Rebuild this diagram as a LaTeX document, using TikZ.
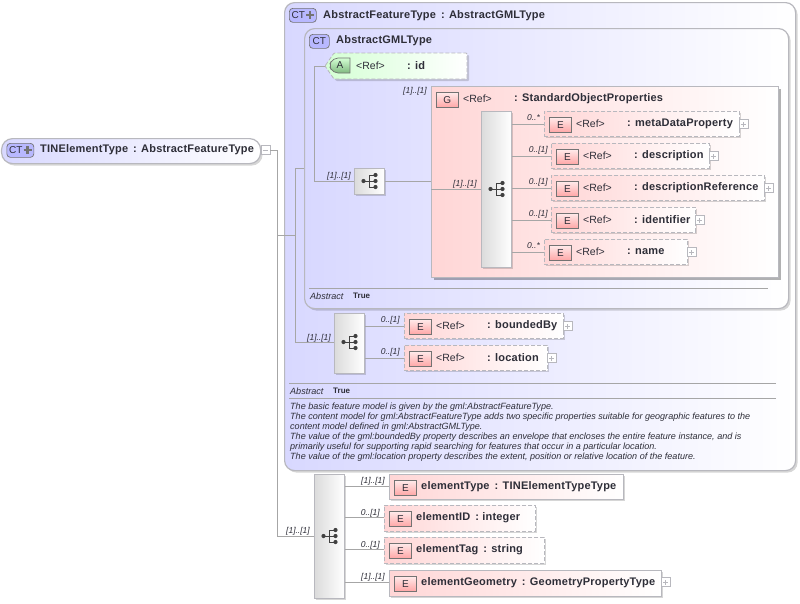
\documentclass[tikz,border=0pt]{standalone}
\usepackage{fontspec}
\setmainfont{Liberation Sans}
\newfontfamily\namefont[LetterSpace=1.8]{Liberation Sans}
\usetikzlibrary{shadows}
\definecolor{wire}{HTML}{A6A6A6}
\definecolor{rim}{HTML}{B8B8BE}
\definecolor{ink}{HTML}{2E2E38}
\definecolor{lilac}{HTML}{D8D8FF}
\definecolor{rose}{HTML}{FFD6D6}
\definecolor{mint}{HTML}{D4FFD4}
\tikzset{
  softshadow/.style={drop shadow={shadow xshift=2pt,shadow yshift=-2pt,fill=black,opacity=.16}},
  deepshadow/.style={drop shadow={shadow xshift=3pt,shadow yshift=-3pt,fill=black,opacity=.3}},
  typebox/.style={draw=rim,line width=1.2pt,rounded corners=10pt,left color=lilac,right color=white,anchor=north west,inner sep=0pt,softshadow},
  rootbox/.style={typebox,rounded corners=11pt},
  elemsolid/.style={draw=rim,line width=.8pt,left color=rose,right color=white,anchor=north west,inner sep=0pt,softshadow},
  elemdash/.style={elemsolid,dash pattern=on 4pt off 2pt},
  groupbox/.style={draw=rim,line width=.8pt,left color=rose,right color=white,anchor=north west,inner sep=0pt,deepshadow},
  seqbox/.style={draw=rim,line width=.8pt,left color=black!14,right color=white,anchor=north west,inner sep=0pt,softshadow},
  badge/.style={draw=black!55,line width=.7pt,inner sep=0pt,anchor=north west,font=\fontsize{10}{12}\selectfont,text=ink},
  ebadge/.style={badge,top color=rose!50,bottom color=red!35,minimum width=22pt,minimum height=15pt},
  ctbadge/.style={badge,rounded corners=3.5pt,fill=lilac!85!blue,minimum height=14pt},
  plainlabel/.style={inner sep=0pt,text=ink,font=\fontsize{10}{12}\selectfont},
  typename/.style={anchor=west,inner sep=0pt,yshift=-1.5pt,text=ink,font=\fontsize{11}{13}\namefont\bfseries},
  reftext/.style={anchor=west,inner sep=0pt,yshift=-1.5pt,text=ink,font=\fontsize{10.5}{12}\selectfont},
  mult/.style={anchor=east,inner sep=0pt,yshift=-1pt,text=ink,font=\fontsize{8.5}{10}\itshape\selectfont},
  note/.style={anchor=west,inner sep=0pt,yshift=-1pt,text=ink,font=\fontsize{9.05}{10}\itshape\selectfont},
  flag/.style={anchor=west,inner sep=0pt,yshift=-.5pt,text=ink,font=\fontsize{8}{10}\bfseries\selectfont},
  link/.style={draw=wire,line width=.8pt},
  rulel/.style={draw=black!35,line width=.6pt},
  expbox/.style={draw=rim,fill=white,line width=.6pt,minimum size=9pt,inner sep=0pt,anchor=west,
    path picture={\draw[rim,line width=.7pt] ([xshift=2pt]path picture bounding box.west)--([xshift=-2pt]path picture bounding box.east);
      \draw[rim,line width=.7pt] ([yshift=2pt]path picture bounding box.south)--([yshift=-2pt]path picture bounding box.north);}},
  colbox/.style={draw=rim,fill=white,line width=.6pt,minimum size=9pt,inner sep=0pt,anchor=west,
    path picture={\draw[rim,line width=.7pt] ([xshift=2pt]path picture bounding box.west)--([xshift=-2pt]path picture bounding box.east);}},
}
% little tree in the compositor boxes
\newcommand{\treeicon}[1]{
  \begin{scope}[shift={(#1)},black!75]
    \draw[line width=.8pt] (-5.5,0)--(0,0) (0,-6)--(0,6) (0,-6)--(6.5,-6) (0,0)--(6.5,0) (0,6)--(6.5,6);
    \foreach \dx/\dy in {-5.5/0,6.5/-6,6.5/0,6.5/6}
    {
      \fill (\dx,\dy) circle (2.1pt);
    }
  \end{scope}
}
% type badge with the extension cross
\newcommand{\ctplus}[3]{
  \node[ctbadge,minimum width=27pt] (#1) at (#2,#3) {};
  \node[plainlabel,anchor=west] (#1text) at (#2+2.5,#3+7) {CT};
  \draw[black!55,line width=2.6pt] (#2+17,#3+7)--(#2+25,#3+7) (#2+21,#3+3)--(#2+21,#3+11);
}
\begin{document}
\begin{tikzpicture}[x=1pt,y=-1pt]
\useasboundingbox (0,0) rectangle (800,603);
\fill[white] (0,0) rectangle (800,603);
% outer types
\node[typebox,minimum width=511pt,minimum height=468pt] (featuretype) at (284,2) {};
\node[typebox,minimum width=484pt,minimum height=280pt] (gmltype) at (304,28) {};
\ctplus{featurebadge}{289}{8}
\node[typename] (featurename) at (323,14) {AbstractFeatureType\, : AbstractGMLType};
\node[ctbadge,minimum width=20pt] (gmlbadge) at (309,34) {CT};
\node[typename] (gmlname) at (336,39) {AbstractGMLType};
% root
\node[rootbox,minimum width=259pt,minimum height=25pt] (root) at (1,138) {};
\ctplus{rootbadge}{6.5}{143}
\node[typename] (rootname) at (40,148) {TINElementType\, : AbstractFeatureType};
\node[colbox] (rootcol) at (260.5,150) {};
% attribute
\path[draw=rim,line width=.8pt,dash pattern=on 4pt off 2pt,left color=mint,right color=white,rounded corners=1pt,softshadow]
  (325,66)--(334,53)--(467,53)--(467,79)--(334,79)--cycle;
\coordinate (idtip) at (325,66);
\draw[black!55,line width=.7pt,top color=mint,bottom color=green!45!black!50]
  (350,58) [rounded corners=5pt] -- (333,58) -- (329,65.5) -- (333,73) [sharp corners] -- (350,73) -- cycle;
\node[plainlabel] (idbadge) at (340,65.5) {A};
\node[reftext] (idref) at (356,64) {<Ref>};
\node[typename] (idname) at (407,64) {: id};
% compositors and group
\node[seqbox,minimum width=30pt,minimum height=26pt] (seqgml) at (354,168) {};
\node[groupbox,minimum width=347pt,minimum height=191pt] (group) at (431,86) {};
\node[ebadge] (groupbadge) at (436,92) {G};
\node[reftext] (groupref) at (463,97) {<Ref>};
\node[typename] (groupname) at (514,97) {: StandardObjectProperties};
\node[seqbox,minimum width=30pt,minimum height=156pt] (seqgroup) at (481,111) {};
\node[seqbox,minimum width=30pt,minimum height=60pt] (seqfeature) at (334,313) {};
\node[seqbox,minimum width=30pt,minimum height=124pt] (seqroot) at (314,474) {};
\treeicon{369,181}
\treeicon{496,189}
\treeicon{349,342}
\treeicon{329,536}
% referenced elements
\foreach \nd/\x/\y/\w/\txt/\ex in {
  metadata/544/111/195/metaDataProperty/738.5,
  description/551/143/158/description/708.5,
  descref/551/175/213/descriptionReference/763.5,
  identifier/551/207/144/identifier/695,
  namelem/544/239/143/name/687,
  boundedby/404/313/159/boundedBy/562.5,
  location/404/345/143/location/547}
{
  \node[elemdash,minimum width=\w pt,minimum height=25pt] (\nd) at (\x,\y) {};
  \node[ebadge] (\nd badge) at (\x+5,\y+6) {E};
  \node[reftext] at (\x+32,\y+11) {<Ref>};
  \node[typename] at (\x+83,\y+11) {: \txt};
  \node[expbox] at (\ex,\y+13) {};
  \coordinate (\nd in) at (\x,\y+13);
}
% local elements
\foreach \nd/\x/\y/\w/\h/\st/\txt in {
  elemtype/389/474/234/25/elemsolid/{elementType\, : TINElementTypeType},
  elemid/384/505/151/26/elemdash/{elementID\, : integer},
  elemtag/384/537/160/26/elemdash/{elementTag\, : string},
  elemgeom/389/570/272/26/elemsolid/{elementGeometry\, : GeometryPropertyType}}
{
  \node[\st,minimum width=\w pt,minimum height=\h pt] (\nd) at (\x,\y) {};
  \node[ebadge] (\nd badge) at (\x+5,\y+6) {E};
  \node[typename] at (\x+32,\y+11) {\txt};
  \coordinate (\nd in) at (\x,\y+12);
}
\node[expbox] (geomexp) at (661,582) {};
% connectors
\coordinate (busa) at (277,150);
\coordinate (busb) at (277,536);
\coordinate (busc) at (277,235);
\coordinate (busd) at (295,235);
\coordinate (buse) at (295,168);
\coordinate (busf) at (295,342);
\coordinate (gmlin) at (304,168);
\coordinate (bush) at (314,66);
\coordinate (busi) at (314,181);
\draw[link] (rootcol.east)--(busa)--(busb)--(seqroot.west |- busb);
\draw[link] (busc)--(busd) (buse)--(busf)--(seqfeature.west |- busf) (buse)--(gmlin);
\draw[link] (idtip)--(bush)--(busi)--(seqgml.west |- busi);
\draw[link] (seqgml.east |- busi)--(group.west |- busi);
\coordinate (groupin) at (431,189);
\draw[link] (groupin)--(seqgroup.west |- groupin);
\foreach \nd in {metadata,description,descref,identifier,namelem}
{
  \draw[link] (seqgroup.east |- \nd in)--(\nd in);
}
\foreach \nd in {boundedby,location}
{
  \draw[link] (seqfeature.east |- \nd in)--(\nd in);
}
\foreach \nd in {elemtype,elemid,elemtag,elemgeom}
{
  \draw[link] (seqroot.east |- \nd in)--(\nd in);
}
% multiplicities
\foreach \x/\y/\m in {
  351/175/{[1]..[1]},427/90/{[1]..[1]},477/183/{[1]..[1]},
  540/117/{0..*},548/149/{0..[1]},548/181/{0..[1]},548/213/{0..[1]},540/245/{0..*},
  331/337/{[1]..[1]},400/319/{0..[1]},400/351/{0..[1]},
  310/530/{[1]..[1]},385/480/{[1]..[1]},380/512/{0..[1]},380/544/{0..[1]},385/576/{[1]..[1]}}
{
  \node[mult] at (\x,\y) {\m};
}
% abstract rows
\draw[rulel] (309,288)--(768,288);
\node[note] (gmlabs) at (310,295.5) {Abstract};
\node[flag] (gmlflag) at (353,295) {True};
\draw[rulel] (289,383)--(776,383);
\node[note] (featabs) at (290,390.5) {Abstract};
\node[flag] (featflag) at (333,390) {True};
\draw[rulel] (289,398)--(776,398);
\foreach \y/\txt in {
  406/{The basic feature model is given by the gml:AbstractFeatureType.},
  416/{The content model for gml:AbstractFeatureType adds two specific properties suitable for geographic features to the},
  426/{content model defined in gml:AbstractGMLType.},
  436/{The value of the gml:boundedBy property describes an envelope that encloses the entire feature instance, and is},
  446/{primarily useful for supporting rapid searching for features that occur in a particular location.},
  456/{The value of the gml:location property describes the extent, position or relative location of the feature.}}
{
  \node[note] at (290,\y) {\txt};
}
\end{tikzpicture}
\end{document}
